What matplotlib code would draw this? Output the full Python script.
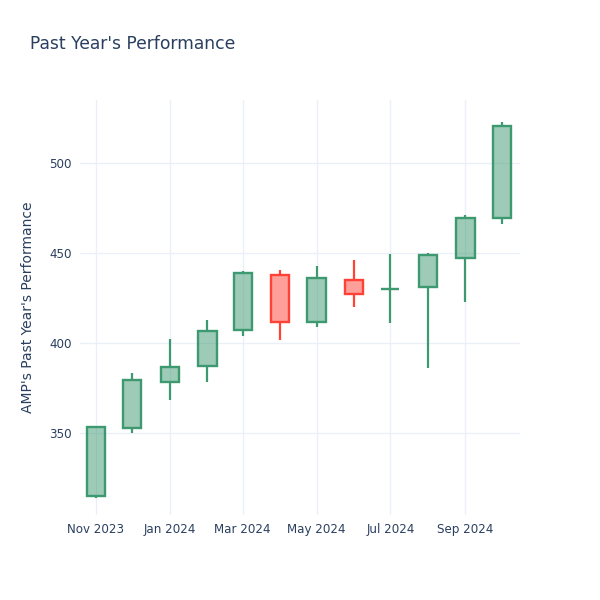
import matplotlib
matplotlib.use("Agg")
import matplotlib.pyplot as plt
import matplotlib.dates as mdates
import pandas as pd

# ─── DATA (monthly OHLC) ──────────────────────────────────────────────────────
months = ["2023-11-01", "2023-12-01", "2024-01-01", "2024-02-01", "2024-03-01", "2024-04-01",
          "2024-05-01", "2024-06-01", "2024-07-01", "2024-08-01", "2024-09-01", "2024-10-01"]
opens = [315.2, 352.6, 378.5, 387.2, 407.2, 437.8, 411.5, 435.0, 429.8, 431.3, 447.4, 469.4]
highs = [353.5, 383.5, 402.2, 412.8, 440.2, 440.6, 442.8, 446.1, 449.4, 449.8, 471.1, 522.9]
lows = [313.9, 349.8, 368.3, 378.3, 403.9, 401.7, 409.1, 419.8, 410.9, 385.9, 422.6, 466.1]
closes = [353.3, 379.4, 386.8, 406.7, 438.7, 411.8, 436.3, 427.1, 430.0, 448.9, 469.6, 520.6]
y_ticks = [350, 400, 450, 500]

TITLE = "Past Year's Performance"
Y_LABEL = "AMP's Past Year's Performance"
INC = "#3D9970"
DEC = "#FF4136"
TEXT = "#2a3f5f"
GRID = "#EBF0F8"

dates = mdates.date2num(pd.to_datetime(months))

fig = plt.figure(figsize=(6, 6), dpi=100)
ax = fig.add_axes([80 / 600, 85 / 600, 440 / 600, 415 / 600])

body_w = 15  # days
for d, o, h, l, c in zip(dates, opens, highs, lows, closes):
    col = INC if c >= o else DEC
    top, bot = max(o, c), min(o, c)
    ax.vlines(d, top, h, color=col, linewidth=1.6, zorder=3)
    ax.vlines(d, l, bot, color=col, linewidth=1.6, zorder=3)
    ax.bar(d, max(top - bot, 0.01), bottom=bot, width=body_w,
           facecolor=matplotlib.colors.to_rgba(col, 0.5), edgecolor=col,
           linewidth=1.7, zorder=4)

ax.set_xlim(mdates.date2num(pd.Timestamp("2023-10-18 18:00")),
            mdates.date2num(pd.Timestamp("2024-10-16")))
ax.set_ylim(304.4, 535)

ax.xaxis.set_major_locator(mdates.MonthLocator(bymonth=[1, 3, 5, 7, 9, 11]))
ax.xaxis.set_major_formatter(mdates.DateFormatter("%b %Y"))
ax.set_yticks(y_ticks)

for s in ax.spines.values():
    s.set_visible(False)
ax.grid(color=GRID, linewidth=1)
ax.set_axisbelow(True)
ax.tick_params(length=0, labelsize=8.6, labelcolor=TEXT, pad=6)

ax.set_ylabel(Y_LABEL, fontsize=10, color=TEXT, labelpad=10)
fig.text(30 / 600, 1 - 44 / 600, TITLE, fontsize=12.3, color=TEXT, va="center", ha="left")

fig.savefig("out.png", dpi=100, facecolor="white")
